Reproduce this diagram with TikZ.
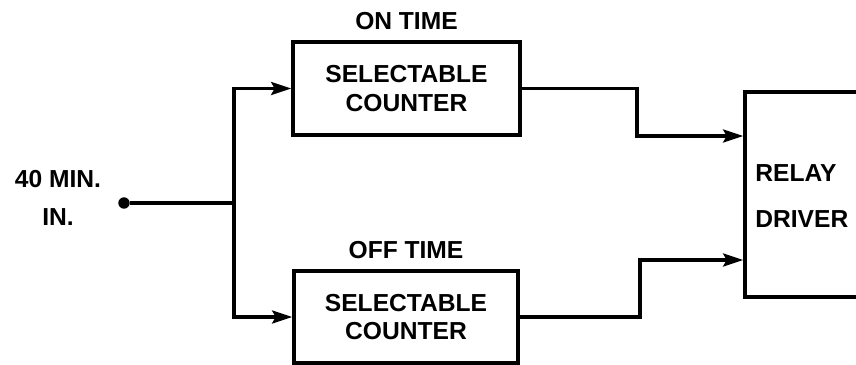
\documentclass[tikz,border=0pt]{standalone}
\usepackage{fontspec}
\setmainfont{Liberation Sans}
\usetikzlibrary{arrows.meta,positioning}
\tikzset{%
  wire/.style={line width=2pt},
  arr/.style={wire,-{Stealth[length=4mm,width=2.6mm,inset=0.7mm]}},
  blk/.style={draw,line width=2.1pt,align=center,inner sep=0pt,
    font=\fontsize{14}{16}\selectfont\bfseries},
  lbl/.style={inner sep=0pt,align=center,font=\fontsize{14}{16}\selectfont\bfseries},
  point/.style={circle,inner sep=0pt,minimum size=6.5pt,fill=black}
}
\begin{document}
\begin{tikzpicture}[x=0.02cm,y=-0.02cm]
  \useasboundingbox (0,0) rectangle (856,365);
  \clip (0,0) rectangle (856,365);
  %
  \node[point] (in) at (124,203) {};
  \node[lbl] (inlbl) at (58,198) {40 MIN.\\[6pt]IN.};
  \coordinate (jn) at (234,203);
  %
  \node[blk,minimum width=4.54cm,minimum height=1.86cm] (on) at (406.5,88.5)
    {SELECTABLE\\COUNTER};
  \node[lbl,above=0.2cm of on] (ontime) {ON TIME};
  \node[blk,minimum width=4.48cm,minimum height=1.84cm] (off) at (406,317)
    {SELECTABLE\\COUNTER};
  \node[lbl,above=0.2cm of off] (offtime) {OFF TIME};
  %
  \node[blk,minimum width=2.5cm,minimum height=4.1cm] (relay) at (807.5,194.5) {};
  \node[lbl,align=left,anchor=west] (relaytxt) at (755,196) {RELAY\\[10pt]DRIVER};
  \coordinate (r1) at (relay.west |- 0,136);
  \coordinate (r2) at (relay.west |- 0,260);
  %% Wires
  \draw[wire] (in) -- (jn);
  \draw[arr] (jn) |- (on.west);
  \draw[arr] (jn) |- (off.west);
  \draw[arr] (on.east) -| (637,136) -- (r1);
  \draw[arr] (off.east) -| (640,260) -- (r2);
  %%
\end{tikzpicture}
\end{document}
